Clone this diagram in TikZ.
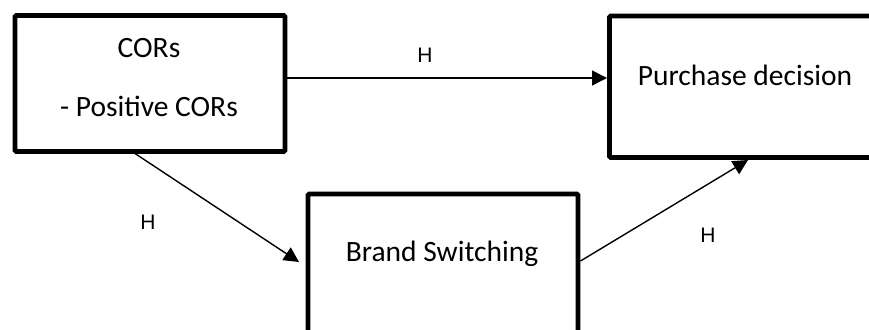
\documentclass[tikz,border=0pt]{standalone}
\usepackage{fontspec}
\setmainfont{Carlito}
\newfontfamily\hfont{Liberation Sans}
\usetikzlibrary{arrows.meta}
\begin{document}
\begin{tikzpicture}[x=1pt,y=-1pt,
  boxnode/.style={draw=black,line width=4.6pt,rounded corners=1.2pt,inner sep=0pt},
  txt/.style={font=\fontsize{29.5}{34}\selectfont,inner sep=0pt},
  hlab/.style={font=\hfont\fontsize{21}{24}\selectfont,inner sep=0pt},
  conn/.style={line width=1.4pt,-{Triangle[length=15pt,width=15pt]}}]
\useasboundingbox (0,0) rectangle (869,329);
\clip (0,0) rectangle (869,329);
\node[boxnode,minimum width=270pt,minimum height=136pt] (cors) at (150,83.5) {};
\node[boxnode,minimum width=272pt,minimum height=141.5pt] (pd) at (745.5,86.75) {};
\node[boxnode,minimum width=270pt,minimum height=142pt] (bs) at (443,265) {};
\node[txt] (t1) at (149,48) {CORs};
\node[txt] (t2) at (149,106) {- Positive CORs};
\node[txt] (t3) at (745,75) {Purchase decision};
\node[txt] (t4) at (442,254) {Brand Switching};
\node[hlab] (h1) at (425,55) {H};
\node[hlab] (h2) at (148,222) {H};
\node[hlab] (h3) at (708,235) {H};
\coordinate (a1s) at (cors.east |- 0,78);
\coordinate (a1e) at (607,78);
\coordinate (a2s) at (135,153.5);
\coordinate (a2e) at (299,262);
\coordinate (a3s) at (580.5,261);
\coordinate (a3e) at (748,160);
\draw[conn] (a1s) -- (a1e);
\draw[conn] (a2s) -- (a2e);
\draw[conn] (a3s) -- (a3e);
\end{tikzpicture}
\end{document}
